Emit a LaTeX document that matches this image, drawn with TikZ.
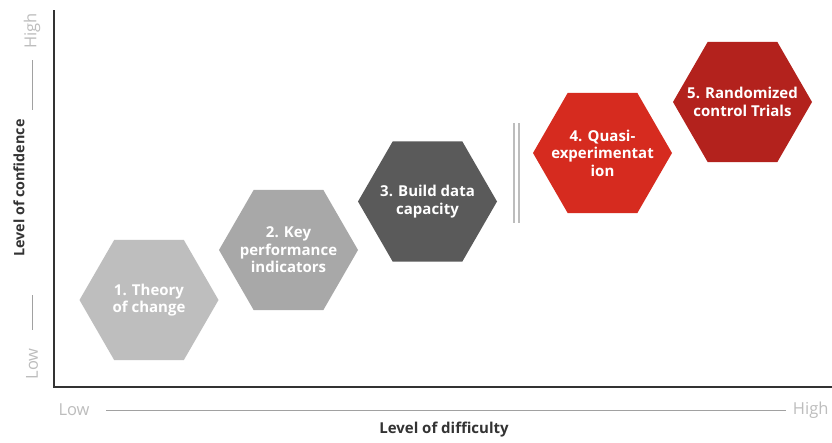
\documentclass[tikz,border=0pt]{standalone}
\usepackage{fontspec}
\setmainfont{Open Sans}
\usetikzlibrary{shapes.geometric}

\definecolor{stepgrayA}{HTML}{BEBEBE}
\definecolor{stepgrayB}{HTML}{A8A8A8}
\definecolor{stepgrayC}{HTML}{5A5A5A}
\definecolor{stepredA}{HTML}{D62B1F}
\definecolor{stepredB}{HTML}{B3221D}
\definecolor{axisdark}{HTML}{333333}
\definecolor{scalegray}{HTML}{BDBDBD}

\begin{document}
\begin{tikzpicture}[x=1pt, y=-1pt,
    hexstep/.style={regular polygon, regular polygon sides=6,
        minimum size=139pt, inner sep=0pt, fill=#1},
    steptext/.style={align=center, text=white,
        font=\fontsize{15}{17.5}\selectfont\bfseries},
    axislabel/.style={font=\fontsize{#1}{16}\selectfont\bfseries, text=axisdark},
    scalelabel/.style={font=\fontsize{16.5}{18}\selectfont, text=scalegray}]

    \useasboundingbox[fill=white] (0,0) rectangle (832,442);

    % Achsen
    \coordinate (origin) at (54,387);
    \coordinate (ytop) at (54,10);
    \coordinate (xend) at (832,387);
    \draw[axisdark, line width=2.4pt] (ytop) -- (origin) -- (xend);

    % Stufen
    \node[hexstep=stepgrayA,
          label={[steptext]center:{1. Theory\\of change}}] (theory) at (149,300) {};
    \node[hexstep=stepgrayB,
          label={[steptext]center:{2. Key\\performance\\indicators}}] (kpi) at (288.5,250) {};
    \node[hexstep=stepgrayC,
          label={[steptext]center:{3. Build data\\capacity}}] (capacity) at (427.5,201.5) {};
    \node[hexstep=stepredA,
          label={[steptext]center:{4. Quasi-\\experimentat\\ion}}] (quasi) at (602.5,153) {};
    \node[hexstep=stepredB,
          label={[steptext]center:{5. Randomized\\control Trials}}] (rct) at (742.5,102) {};

    % Trennlinie
    \draw[scalegray, line width=1.6pt] (514,123) -- (514,223);
    \draw[scalegray, line width=1.6pt] (519,123) -- (519,223);

    % x-Achse Beschriftung
    \node[scalelabel, anchor=west] (xlow) at (55,410) {Low};
    \node[scalelabel, anchor=east] (xhigh) at (832,410) {High};
    \coordinate (xa) at (106,410);
    \coordinate (xb) at (786,410);
    \draw[scalegray!85!black, line width=0.9pt] (xa) -- (xb);
    \node[axislabel=15] (xlabel) at (444,430) {Level of difficulty};

    % y-Achse Beschriftung
    \node[axislabel=14.3, rotate=90] (ylabel) at (19,188) {Level of confidence};
    \node[scalelabel, rotate=90] (yhigh) at (32,31) {High};
    \node[scalelabel, rotate=90] (ylow) at (32,364) {Low};
    \coordinate (ya) at (32,60);
    \coordinate (yb) at (32,110);
    \coordinate (yc) at (32,295);
    \coordinate (yd) at (32,330);
    \draw[scalegray!85!black, line width=0.9pt] (ya) -- (yb);
    \draw[scalegray!85!black, line width=0.9pt] (yc) -- (yd);

\end{tikzpicture}
\end{document}
